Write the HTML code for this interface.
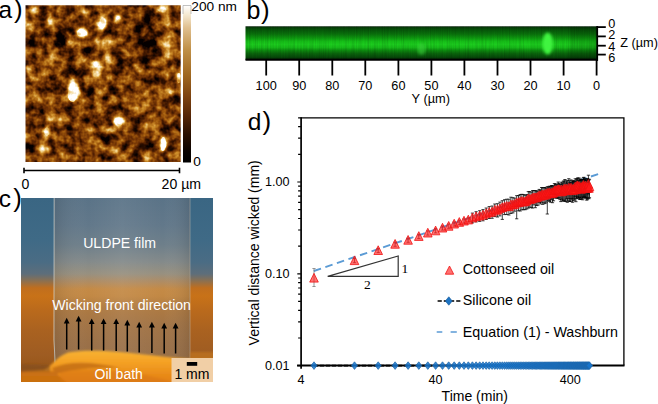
<!DOCTYPE html><html><head><meta charset="utf-8"><title>Figure</title>
<style>html,body{margin:0;padding:0;background:#fff;}svg{display:block}text{font-family:"Liberation Sans",sans-serif;fill:#000}</style></head><body>
<svg width="658" height="404" viewBox="0 0 658 404">
<defs>
<filter id="afm" x="0" y="0" width="100%" height="100%" color-interpolation-filters="sRGB">
<feTurbulence type="fractalNoise" baseFrequency="0.085" numOctaves="3" seed="11" result="n"/>
<feColorMatrix in="n" type="matrix" values="0 0 0 0 0  0 0 0 0 0  0 0 0 0 0  2.6 0 0 0 -0.80" result="a"/>
<feComponentTransfer in="a" result="g"><feFuncA type="linear" slope="1" intercept="0"/></feComponentTransfer>
</filter>
<filter id="afmmap" x="0" y="0" width="100%" height="100%" color-interpolation-filters="sRGB">
<feTurbulence type="fractalNoise" baseFrequency="0.105" numOctaves="3" seed="23" result="n"/>
<feColorMatrix in="n" type="matrix" values="1 0 0 0 0  1 0 0 0 0  1 0 0 0 0  0 0 0 0 1" result="g"/>
<feComposite in="SourceGraphic" in2="g" operator="arithmetic" k1="0" k2="1" k3="1.15" k4="-0.575" result="m"/>
<feComponentTransfer in="m">
<feFuncR type="table" tableValues="0.02 0.21 0.43 0.63 0.81 0.95 1.0"/>
<feFuncG type="table" tableValues="0.00 0.07 0.19 0.35 0.56 0.83 1.0"/>
<feFuncB type="table" tableValues="0.00 0.00 0.02 0.05 0.17 0.55 1.0"/>
<feFuncA type="linear" slope="0" intercept="1"/>
</feComponentTransfer>
</filter>
<filter id="b15"><feGaussianBlur stdDeviation="1.5"/></filter>
<filter id="b2"><feGaussianBlur stdDeviation="2"/></filter>
<filter id="b3"><feGaussianBlur stdDeviation="3.5"/></filter>
<filter id="b1"><feGaussianBlur stdDeviation="1.1"/></filter>
<filter id="b05"><feGaussianBlur stdDeviation="0.6"/></filter>
<clipPath id="afmclip"><rect x="25.5" y="5.3" width="155.2" height="156.7"/></clipPath>
<linearGradient id="cbar" x1="0" y1="0" x2="0" y2="1">
<stop offset="0" stop-color="#ffffff"/><stop offset="0.06" stop-color="#f4e8d0"/><stop offset="0.14" stop-color="#e0c090"/><stop offset="0.28" stop-color="#c09048"/>
<stop offset="0.44" stop-color="#a06820"/><stop offset="0.58" stop-color="#7c4210"/><stop offset="0.7" stop-color="#562606"/>
<stop offset="0.82" stop-color="#2a1000"/><stop offset="0.93" stop-color="#0a0300"/><stop offset="1" stop-color="#000000"/></linearGradient>
<linearGradient id="grn" x1="0" y1="0" x2="0" y2="1">
<stop offset="0" stop-color="#031a04"/><stop offset="0.03" stop-color="#063c08"/><stop offset="0.11" stop-color="#07580a"/>
<stop offset="0.23" stop-color="#0a720c"/><stop offset="0.35" stop-color="#0e9a10"/><stop offset="0.45" stop-color="#16c018"/>
<stop offset="0.54" stop-color="#1ccc1e"/><stop offset="0.63" stop-color="#17bc19"/><stop offset="0.71" stop-color="#0e9010"/>
<stop offset="0.81" stop-color="#0a660c"/><stop offset="0.92" stop-color="#074a0a"/><stop offset="1" stop-color="#042004"/></linearGradient>
<filter id="gnoise" x="0" y="0" width="100%" height="100%" color-interpolation-filters="sRGB">
<feTurbulence type="fractalNoise" baseFrequency="0.85 0.03" numOctaves="2" seed="5" result="n"/>
<feColorMatrix in="n" type="matrix" values="0 0 0 0 0  0 0 0 0 0  0 0 0 0 0  0 1.6 0 0 -0.55" result="a"/>
<feComposite in="a" in2="SourceGraphic" operator="in"/>
</filter>
<linearGradient id="bg" x1="0" y1="0" x2="0" y2="1"><stop offset="0.000" stop-color="#3a6683"/><stop offset="0.228" stop-color="#3f6a86"/><stop offset="0.348" stop-color="#4a6c84"/><stop offset="0.413" stop-color="#5e6e7a"/><stop offset="0.451" stop-color="#8c7050"/><stop offset="0.489" stop-color="#c06e1e"/><stop offset="0.533" stop-color="#c87218"/><stop offset="0.609" stop-color="#ba6a1c"/><stop offset="0.717" stop-color="#aa6220"/><stop offset="0.853" stop-color="#9e5c22"/><stop offset="0.924" stop-color="#985618"/><stop offset="0.957" stop-color="#b46012"/><stop offset="1.000" stop-color="#c0640e"/></linearGradient>
<linearGradient id="film" x1="0" y1="0" x2="0" y2="1"><stop offset="0.000" stop-color="#5a7387"/><stop offset="0.147" stop-color="#62788a"/><stop offset="0.255" stop-color="#6e7f8a"/><stop offset="0.348" stop-color="#848a8a"/><stop offset="0.413" stop-color="#98907f"/><stop offset="0.457" stop-color="#b08c62"/><stop offset="0.495" stop-color="#c48a46"/><stop offset="0.533" stop-color="#c28844"/><stop offset="0.598" stop-color="#ae7a42"/><stop offset="0.690" stop-color="#a27446"/><stop offset="0.799" stop-color="#9a7048"/><stop offset="1.000" stop-color="#946c44"/></linearGradient>
<linearGradient id="filmv" x1="0" y1="0" x2="1" y2="0"><stop offset="0" stop-color="#000" stop-opacity="0.10"/><stop offset="0.25" stop-color="#fff" stop-opacity="0.0"/><stop offset="0.5" stop-color="#fff" stop-opacity="0.06"/><stop offset="0.8" stop-color="#fff" stop-opacity="0"/><stop offset="1" stop-color="#000" stop-opacity="0.10"/></linearGradient>
<linearGradient id="oilg" x1="0" y1="0" x2="0" y2="1"><stop offset="0" stop-color="#f8b232"/><stop offset="0.35" stop-color="#f4a024"/><stop offset="0.7" stop-color="#e88a18"/><stop offset="1" stop-color="#e07c12"/></linearGradient>
<clipPath id="phclip"><rect x="21" y="198" width="192" height="184"/></clipPath>
</defs>
<rect width="658" height="404" fill="#fff"/>
<g clip-path="url(#afmclip)">
<g filter="url(#afmmap)">
<rect x="25" y="5" width="156" height="157" fill="#5e5e5e"/>
<g filter="url(#b15)">
<ellipse cx="66.6" cy="30.7" rx="5" ry="4" fill="#000" opacity="0.81"/>
<ellipse cx="58" cy="40" rx="12" ry="8" fill="#000" opacity="0.59"/>
<ellipse cx="70.5" cy="74.3" rx="7" ry="6" fill="#000" opacity="0.63"/>
<ellipse cx="42.8" cy="7" rx="6" ry="3" fill="#000" opacity="0.54"/>
<ellipse cx="64.6" cy="11" rx="5" ry="4" fill="#000" opacity="0.45"/>
<ellipse cx="90" cy="50.5" rx="5" ry="5" fill="#000" opacity="0.45"/>
<ellipse cx="33" cy="44.6" rx="5" ry="6" fill="#000" opacity="0.41"/>
<ellipse cx="116.8" cy="23.8" rx="3.5" ry="3.5" fill="#000" opacity="0.77"/>
<ellipse cx="146" cy="40" rx="12" ry="24" fill="#000" opacity="0.54"/>
<ellipse cx="150.5" cy="13" rx="6" ry="5" fill="#000" opacity="0.50"/>
<ellipse cx="120.8" cy="64.4" rx="6" ry="6" fill="#000" opacity="0.45"/>
<ellipse cx="92.3" cy="121.6" rx="7" ry="6" fill="#000" opacity="0.59"/>
<ellipse cx="54.7" cy="88" rx="6" ry="5" fill="#000" opacity="0.59"/>
<ellipse cx="31" cy="147" rx="5" ry="6" fill="#000" opacity="0.54"/>
<ellipse cx="88.4" cy="92" rx="5" ry="4" fill="#000" opacity="0.41"/>
<ellipse cx="70.5" cy="147" rx="6" ry="5" fill="#000" opacity="0.45"/>
<ellipse cx="33" cy="117.6" rx="5" ry="5" fill="#000" opacity="0.41"/>
<ellipse cx="148.5" cy="143.4" rx="5" ry="6" fill="#000" opacity="0.63"/>
<ellipse cx="173.3" cy="139.4" rx="4" ry="6" fill="#000" opacity="0.59"/>
<ellipse cx="112.9" cy="90" rx="6" ry="5" fill="#000" opacity="0.54"/>
<ellipse cx="136.6" cy="127.5" rx="6" ry="5" fill="#000" opacity="0.45"/>
<ellipse cx="105" cy="141.4" rx="4" ry="5" fill="#000" opacity="0.54"/>
<ellipse cx="130.7" cy="157" rx="6" ry="4" fill="#000" opacity="0.41"/>
<ellipse cx="60" cy="110" rx="6" ry="6" fill="#000" opacity="0.36"/>
<ellipse cx="73.5" cy="92" rx="6.5" ry="10" fill="#fff" opacity="1.00"/>
<ellipse cx="81.4" cy="32.7" rx="6" ry="5" fill="#fff" opacity="0.95"/>
<ellipse cx="102.5" cy="23" rx="4.5" ry="7" fill="#fff" opacity="0.90"/>
<ellipse cx="96.3" cy="68.4" rx="6.5" ry="9" fill="#fff" opacity="0.95"/>
<ellipse cx="163.3" cy="144" rx="3.2" ry="8" fill="#fff" opacity="1.00"/>
<ellipse cx="118.8" cy="122.6" rx="5.5" ry="5.5" fill="#fff" opacity="0.90"/>
<ellipse cx="46.8" cy="131.5" rx="4" ry="5.5" fill="#fff" opacity="0.85"/>
<ellipse cx="162.4" cy="10" rx="6" ry="4" fill="#fff" opacity="0.80"/>
<ellipse cx="178.5" cy="78" rx="3" ry="6" fill="#fff" opacity="0.85"/>
<ellipse cx="117.8" cy="17.9" rx="3" ry="3" fill="#fff" opacity="0.70"/>
<ellipse cx="35" cy="10" rx="5" ry="4" fill="#fff" opacity="0.55"/>
<ellipse cx="50.7" cy="19.9" rx="3" ry="6" fill="#fff" opacity="0.50"/>
<ellipse cx="71.5" cy="42.6" rx="4" ry="4" fill="#fff" opacity="0.45"/>
<ellipse cx="42.8" cy="72.3" rx="5" ry="5" fill="#fff" opacity="0.50"/>
<ellipse cx="29" cy="26.8" rx="4" ry="5" fill="#fff" opacity="0.40"/>
<ellipse cx="86.4" cy="13" rx="4" ry="4" fill="#fff" opacity="0.45"/>
<ellipse cx="28" cy="70" rx="3" ry="5" fill="#fff" opacity="0.50"/>
<ellipse cx="54.7" cy="56.5" rx="4" ry="4" fill="#fff" opacity="0.40"/>
<ellipse cx="107" cy="50" rx="5" ry="13" fill="#fff" opacity="0.40"/>
<ellipse cx="170" cy="45" rx="8" ry="16" fill="#fff" opacity="0.35"/>
<ellipse cx="126.7" cy="80" rx="5" ry="4" fill="#fff" opacity="0.40"/>
<ellipse cx="44.8" cy="149.3" rx="5" ry="5" fill="#fff" opacity="0.50"/>
<ellipse cx="92.3" cy="141.4" rx="4" ry="4" fill="#fff" opacity="0.45"/>
<ellipse cx="98.3" cy="107.7" rx="4" ry="4" fill="#fff" opacity="0.45"/>
<ellipse cx="50.7" cy="117.6" rx="5" ry="5" fill="#fff" opacity="0.45"/>
<ellipse cx="35" cy="94" rx="5" ry="5" fill="#fff" opacity="0.40"/>
<ellipse cx="76.5" cy="127.5" rx="4" ry="4" fill="#fff" opacity="0.40"/>
<ellipse cx="112.9" cy="151.3" rx="3.5" ry="3.5" fill="#fff" opacity="0.60"/>
<ellipse cx="144.6" cy="103.8" rx="3" ry="3" fill="#fff" opacity="0.55"/>
<ellipse cx="138.6" cy="95.9" rx="5" ry="4" fill="#fff" opacity="0.40"/>
<ellipse cx="166.3" cy="93.9" rx="7" ry="6" fill="#fff" opacity="0.40"/>
<ellipse cx="110.9" cy="129.5" rx="4" ry="4" fill="#fff" opacity="0.40"/>
<ellipse cx="150" cy="120" rx="8" ry="6" fill="#fff" opacity="0.25"/>
</g>
<g filter="url(#b05)">
<ellipse cx="163.3" cy="144" rx="2.6" ry="7" fill="#fff" opacity="1.00"/>
<ellipse cx="72.5" cy="94" rx="4.5" ry="8" fill="#fff" opacity="0.90"/>
<ellipse cx="96.3" cy="68" rx="4" ry="6" fill="#fff" opacity="0.70"/>
<ellipse cx="81.4" cy="32.7" rx="4.5" ry="3.5" fill="#fff" opacity="0.80"/>
<ellipse cx="102.8" cy="22.5" rx="3" ry="5" fill="#fff" opacity="0.70"/>
<ellipse cx="118.8" cy="122.6" rx="3.5" ry="3.5" fill="#fff" opacity="0.80"/>
<ellipse cx="46.8" cy="131.5" rx="2.5" ry="4" fill="#fff" opacity="0.70"/>
<ellipse cx="178.8" cy="78" rx="2" ry="5" fill="#fff" opacity="0.70"/>
<ellipse cx="162.4" cy="10" rx="4" ry="2.5" fill="#fff" opacity="0.50"/>
</g>
</g></g>
<rect x="183" y="5.5" width="8" height="157" fill="url(#cbar)"/>
<rect x="183" y="5.5" width="8" height="8" fill="none"/>
<path d="M183 14 V5.5 H191 V14" fill="none" stroke="#999" stroke-width="0.6"/>
<text x="191.3" y="10.9" font-size="13.7">200 nm</text>
<text x="193.2" y="166.0" font-size="13.7">0</text>
<path d="M24 170.5 H179.5 M24 167.8 V173.2 M179.5 167.8 V173.2" stroke="#000" stroke-width="1.6" fill="none"/>
<text x="21.6" y="188.6" font-size="14.1">0</text>
<text x="161.6" y="188.6" font-size="14.1">20 µm</text>
<text x="-1.4" y="18.4" font-size="24.5">a<tspan font-size="26" dx="1.8">)</tspan></text>
<g clip-path="url(#phclip)">
<rect x="21" y="198" width="192" height="184" fill="url(#bg)"/>
<rect x="54" y="198" width="136" height="184" fill="url(#film)"/>
<path d="M54.2 198 L54 340 L56 382" stroke="#e4e4dc" stroke-width="0.9" fill="none" opacity="0.8"/>
<path d="M190 198 L190 360" stroke="#c8c0b0" stroke-width="0.8" fill="none" opacity="0.6"/>
<rect x="54" y="198" width="136" height="184" fill="url(#filmv)"/>
<g filter="url(#b1)">
<path d="M21 372 L44 370 C52 366 56 357 68 352.5 C82 350 100 350.5 120 352 C150 355 175 358 190 359 L215 359.5 L215 386 L21 386 Z" fill="url(#oilg)"/>
<path d="M21 364 L50 365 L50 372.5 L21 372 Z" fill="#7a4a20" opacity="0.5"/>
<path d="M52 368 C70 360 95 362 120 368 C100 367 75 368 56 374 Z" fill="#b05c10" opacity="0.6"/>
<path d="M21 372 L54 371 L70 386 L21 386 Z" fill="#c06810" opacity="0.75"/>
<path d="M60 372 C100 366 140 372 172 382 L172 386 L60 386 Z" fill="#d87410" opacity="0.5"/>
<path d="M190 352 L215 352 L215 360 L190 360 Z" fill="#c87a20" opacity="0.6"/>
</g>
<rect x="171.5" y="358" width="42" height="24.5" fill="#f1cfa6"/>
<rect x="186.8" y="362" width="10.4" height="3.8" fill="#000"/>
</g>
<text x="174.4" y="378.8" font-size="14">1 mm</text>
<text x="83.2" y="248" font-size="14.1" style="fill:#fff">ULDPE film</text>
<text x="52.3" y="309.5" font-size="14.1" style="fill:#fff">Wicking front direction</text>
<text x="94.6" y="378.7" font-size="14" style="fill:#fff">Oil bath</text>
<path d="M66.7 349.5 V321" stroke="#000" stroke-width="1.5"/>
<path d="M63.8 323.4 L66.7 317.7 L69.6 323.4 Z" fill="#000"/>
<path d="M78.6 349.5 V319" stroke="#000" stroke-width="1.5"/>
<path d="M75.7 321.4 L78.6 315.7 L81.5 321.4 Z" fill="#000"/>
<path d="M91.7 350.5 V321.7" stroke="#000" stroke-width="1.5"/>
<path d="M88.8 324.1 L91.7 318.4 L94.6 324.1 Z" fill="#000"/>
<path d="M103.6 350.5 V321.7" stroke="#000" stroke-width="1.5"/>
<path d="M100.7 324.1 L103.6 318.4 L106.5 324.1 Z" fill="#000"/>
<path d="M116.2 351 V321.7" stroke="#000" stroke-width="1.5"/>
<path d="M113.3 324.1 L116.2 318.4 L119.1 324.1 Z" fill="#000"/>
<path d="M127.3 351.5 V323" stroke="#000" stroke-width="1.5"/>
<path d="M124.4 325.4 L127.3 319.7 L130.2 325.4 Z" fill="#000"/>
<path d="M139.2 352.5 V325" stroke="#000" stroke-width="1.5"/>
<path d="M136.3 327.4 L139.2 321.7 L142.1 327.4 Z" fill="#000"/>
<path d="M151.9 353 V325" stroke="#000" stroke-width="1.5"/>
<path d="M149.0 327.4 L151.9 321.7 L154.8 327.4 Z" fill="#000"/>
<path d="M164.2 353.5 V326" stroke="#000" stroke-width="1.5"/>
<path d="M161.3 328.4 L164.2 322.7 L167.1 328.4 Z" fill="#000"/>
<path d="M175.6 353.5 V326" stroke="#000" stroke-width="1.5"/>
<path d="M172.7 328.4 L175.6 322.7 L178.5 328.4 Z" fill="#000"/>
<text x="-1.2" y="206.5" font-size="24.5">c<tspan font-size="26" dx="2.2">)</tspan></text>
<rect x="245.5" y="26.3" width="351.5" height="33.5" fill="url(#grn)"/>
<rect x="245.5" y="26.3" width="351.5" height="33.5" fill="#000" filter="url(#gnoise)" opacity="0.16"/>
<ellipse cx="547.7" cy="43.5" rx="5.2" ry="11" fill="#40f440" filter="url(#b15)"/>
<rect x="570" y="27" width="27" height="32" fill="#000" opacity="0.12"/>
<ellipse cx="421.5" cy="49" rx="4" ry="6" fill="#40d840" opacity="0.55" filter="url(#b15)"/>
<path d="M245.5 59.8 H598" stroke="#000" stroke-width="2"/>
<path d="M597.2 26 V60.8" stroke="#000" stroke-width="1.8"/>
<path d="M266.2 60 V75.5" stroke="#000" stroke-width="1.8"/>
<text x="266.2" y="90.1" font-size="12.7" text-anchor="middle">100</text>
<path d="M299.2 60 V75.5" stroke="#000" stroke-width="1.8"/>
<text x="299.2" y="90.1" font-size="12.7" text-anchor="middle">90</text>
<path d="M332.3 60 V75.5" stroke="#000" stroke-width="1.8"/>
<text x="332.3" y="90.1" font-size="12.7" text-anchor="middle">80</text>
<path d="M365.3 60 V75.5" stroke="#000" stroke-width="1.8"/>
<text x="365.3" y="90.1" font-size="12.7" text-anchor="middle">70</text>
<path d="M398.4 60 V75.5" stroke="#000" stroke-width="1.8"/>
<text x="398.4" y="90.1" font-size="12.7" text-anchor="middle">60</text>
<path d="M431.4 60 V75.5" stroke="#000" stroke-width="1.8"/>
<text x="431.4" y="90.1" font-size="12.7" text-anchor="middle">50</text>
<path d="M464.4 60 V75.5" stroke="#000" stroke-width="1.8"/>
<text x="464.4" y="90.1" font-size="12.7" text-anchor="middle">40</text>
<path d="M497.5 60 V75.5" stroke="#000" stroke-width="1.8"/>
<text x="497.5" y="90.1" font-size="12.7" text-anchor="middle">30</text>
<path d="M530.5 60 V75.5" stroke="#000" stroke-width="1.8"/>
<text x="530.5" y="90.1" font-size="12.7" text-anchor="middle">20</text>
<path d="M563.6 60 V75.5" stroke="#000" stroke-width="1.8"/>
<text x="563.6" y="90.1" font-size="12.7" text-anchor="middle">10</text>
<path d="M596.6 60 V75.5" stroke="#000" stroke-width="1.8"/>
<text x="596.6" y="90.1" font-size="12.7" text-anchor="middle">0</text>
<path d="M597 27.1 H605.8" stroke="#000" stroke-width="1.8"/>
<text x="608.2" y="28.2" font-size="12.7">0</text>
<path d="M597 36.4 H605.8" stroke="#000" stroke-width="1.8"/>
<text x="608.2" y="38.6" font-size="12.7">2</text>
<path d="M597 45.7 H605.8" stroke="#000" stroke-width="1.8"/>
<text x="608.2" y="50.6" font-size="12.7">4</text>
<path d="M597 54.6 H605.8" stroke="#000" stroke-width="1.8"/>
<text x="608.2" y="62.3" font-size="12.7">6</text>
<text x="620.3" y="47" font-size="12.7">Z (µm)</text>
<text x="411.6" y="103.2" font-size="12.8">Y (µm)</text>
<text x="246.6" y="18.8" font-size="25">b<tspan font-size="26" dx="0.6">)</tspan></text>
<text x="247.7" y="130.1" font-size="24.5">d<tspan font-size="26" dx="1.2">)</tspan></text>
<text x="289.6" y="186.3" font-size="12.6" text-anchor="end">1.00</text>
<text x="289.6" y="278.1" font-size="12.6" text-anchor="end">0.10</text>
<text x="289.6" y="369.9" font-size="12.6" text-anchor="end">0.01</text>
<text x="300.9" y="383.6" font-size="12.6" text-anchor="middle">4</text>
<text x="435.6" y="383.6" font-size="12.6" text-anchor="middle">40</text>
<text x="570.3" y="383.6" font-size="12.6" text-anchor="middle">400</text>
<text x="441.6" y="400.6" font-size="14">Time (min)</text>
<text transform="translate(258.6,345.4) rotate(-90)" font-size="14">Vertical distance wicked (mm)</text>
<path d="M297.3 365.6 H300.9 M298.1 338.0 H300.9 M298.1 321.8 H300.9 M298.1 310.3 H300.9 M298.1 301.4 H300.9 M298.1 294.2 H300.9 M298.1 288.0 H300.9 M298.1 282.7 H300.9 M298.1 278.0 H300.9 M297.3 273.8 H300.9 M298.1 246.2 H300.9 M298.1 230.0 H300.9 M298.1 218.5 H300.9 M298.1 209.6 H300.9 M298.1 202.4 H300.9 M298.1 196.2 H300.9 M298.1 190.9 H300.9 M298.1 186.2 H300.9 M297.3 182.0 H300.9 M298.1 154.4 H300.9 M298.1 138.2 H300.9 M298.1 126.7 H300.9 M298.1 117.8 H300.9" stroke="#000" stroke-width="1.2" fill="none"/>
<path d="M314.0 365.6 H589.5" stroke="#000" stroke-width="1.6" stroke-dasharray="4 2"/>
<path d="M300.9 117.8 H623.9 V365.6" stroke="#000" stroke-width="1.3" fill="none"/>
<path d="M301.1 117.2 V368.8" stroke="#000" stroke-width="1.7" fill="none"/>
<path d="M297.1 365.5 H624.5" stroke="#000" stroke-width="1.9" fill="none"/>
<path d="M313.8 271.0 L598.5 173.9" stroke="#5b9bd5" stroke-width="1.9" stroke-dasharray="7.6 4.6" fill="none"/>
<path d="M314.0 268.5 V286.5 M312.4 268.5 h3.2 M312.4 286.5 h3.2" stroke="#777" stroke-width="0.75" fill="none"/>
<path d="M354.5 258.5 V262.7 M352.9 258.5 h3.2 M352.9 262.7 h3.2" stroke="#7a2a2a" stroke-width="0.75" fill="none"/>
<path d="M378.2 248.4 V252.6 M376.6 248.4 h3.2 M376.6 252.6 h3.2" stroke="#7a2a2a" stroke-width="0.75" fill="none"/>
<path d="M395.1 242.1 V246.3 M393.5 242.1 h3.2 M393.5 246.3 h3.2" stroke="#7a2a2a" stroke-width="0.75" fill="none"/>
<path d="M408.1 238.1 V242.3 M406.5 238.1 h3.2 M406.5 242.3 h3.2" stroke="#7a2a2a" stroke-width="0.75" fill="none"/>
<path d="M418.8 234.3 V238.5 M417.2 234.3 h3.2 M417.2 238.5 h3.2" stroke="#7a2a2a" stroke-width="0.75" fill="none"/>
<path d="M427.8 230.9 V235.1 M426.2 230.9 h3.2 M426.2 235.1 h3.2" stroke="#7a2a2a" stroke-width="0.75" fill="none"/>
<path d="M435.6 228.7 V232.9 M434.0 228.7 h3.2 M434.0 232.9 h3.2" stroke="#7a2a2a" stroke-width="0.75" fill="none"/>
<path d="M442.5 225.9 V230.1 M440.9 225.9 h3.2 M440.9 230.1 h3.2" stroke="#7a2a2a" stroke-width="0.75" fill="none"/>
<path d="M448.7 224.1 V228.3 M447.1 224.1 h3.2 M447.1 228.3 h3.2" stroke="#7a2a2a" stroke-width="0.75" fill="none"/>
<path d="M454.2 221.9 V226.1 M452.6 221.9 h3.2 M452.6 226.1 h3.2" stroke="#7a2a2a" stroke-width="0.75" fill="none"/>
<path d="M459.3 220.2 V224.4 M457.7 220.2 h3.2 M457.7 224.4 h3.2" stroke="#7a2a2a" stroke-width="0.75" fill="none"/>
<path d="M464.0 218.9 V223.1 M462.4 218.9 h3.2 M462.4 223.1 h3.2" stroke="#7a2a2a" stroke-width="0.75" fill="none"/>
<path d="M468.3 217.8 V222.0 M466.7 217.8 h3.2 M466.7 222.0 h3.2" stroke="#7a2a2a" stroke-width="0.75" fill="none"/>
<path d="M472.4 213.1 V222.9 M470.8 213.1 h3.2 M470.8 222.9 h3.2" stroke="#000" stroke-width="0.75" fill="none"/>
<path d="M476.1 211.7 V221.9 M474.5 211.7 h3.2 M474.5 221.9 h3.2" stroke="#000" stroke-width="0.75" fill="none"/>
<path d="M479.7 210.7 V221.4 M478.1 210.7 h3.2 M478.1 221.4 h3.2" stroke="#000" stroke-width="0.75" fill="none"/>
<path d="M483.0 209.6 V220.8 M481.4 209.6 h3.2 M481.4 220.8 h3.2" stroke="#000" stroke-width="0.75" fill="none"/>
<path d="M486.2 208.0 V219.5 M484.6 208.0 h3.2 M484.6 219.5 h3.2" stroke="#000" stroke-width="0.75" fill="none"/>
<path d="M489.2 206.6 V218.5 M487.6 206.6 h3.2 M487.6 218.5 h3.2" stroke="#000" stroke-width="0.75" fill="none"/>
<path d="M492.1 206.0 V218.3 M490.5 206.0 h3.2 M490.5 218.3 h3.2" stroke="#000" stroke-width="0.75" fill="none"/>
<path d="M494.8 204.0 V216.6 M493.2 204.0 h3.2 M493.2 216.6 h3.2" stroke="#000" stroke-width="0.75" fill="none"/>
<path d="M497.4 203.7 V217.0 M495.8 203.7 h3.2 M495.8 217.0 h3.2" stroke="#000" stroke-width="0.75" fill="none"/>
<path d="M499.9 202.1 V215.9 M498.3 202.1 h3.2 M498.3 215.9 h3.2" stroke="#000" stroke-width="0.75" fill="none"/>
<path d="M502.3 200.7 V219.4 M500.7 200.7 h3.2 M500.7 219.4 h3.2" stroke="#000" stroke-width="0.75" fill="none"/>
<path d="M504.6 199.7 V214.6 M503.0 199.7 h3.2 M503.0 214.6 h3.2" stroke="#000" stroke-width="0.75" fill="none"/>
<path d="M506.8 199.2 V214.5 M505.2 199.2 h3.2 M505.2 214.5 h3.2" stroke="#000" stroke-width="0.75" fill="none"/>
<path d="M508.9 199.2 V215.0 M507.3 199.2 h3.2 M507.3 215.0 h3.2" stroke="#000" stroke-width="0.75" fill="none"/>
<path d="M510.9 197.2 V213.5 M509.3 197.2 h3.2 M509.3 213.5 h3.2" stroke="#000" stroke-width="0.75" fill="none"/>
<path d="M512.9 197.7 V212.9 M511.3 197.7 h3.2 M511.3 212.9 h3.2" stroke="#000" stroke-width="0.75" fill="none"/>
<path d="M514.8 198.1 V211.2 M513.2 198.1 h3.2 M513.2 211.2 h3.2" stroke="#000" stroke-width="0.75" fill="none"/>
<path d="M516.7 195.7 V218.8 M515.1 195.7 h3.2 M515.1 218.8 h3.2" stroke="#000" stroke-width="0.75" fill="none"/>
<path d="M518.5 195.5 V210.8 M516.9 195.5 h3.2 M516.9 210.8 h3.2" stroke="#000" stroke-width="0.75" fill="none"/>
<path d="M520.2 194.5 V211.0 M518.6 194.5 h3.2 M518.6 211.0 h3.2" stroke="#000" stroke-width="0.75" fill="none"/>
<path d="M521.9 194.3 V209.8 M520.3 194.3 h3.2 M520.3 209.8 h3.2" stroke="#000" stroke-width="0.75" fill="none"/>
<path d="M523.6 194.5 V209.7 M522.0 194.5 h3.2 M522.0 209.7 h3.2" stroke="#000" stroke-width="0.75" fill="none"/>
<path d="M525.2 195.4 V209.7 M523.6 195.4 h3.2 M523.6 209.7 h3.2" stroke="#000" stroke-width="0.75" fill="none"/>
<path d="M526.8 194.5 V209.0 M525.2 194.5 h3.2 M525.2 209.0 h3.2" stroke="#000" stroke-width="0.75" fill="none"/>
<path d="M528.3 191.6 V208.1 M526.7 191.6 h3.2 M526.7 208.1 h3.2" stroke="#000" stroke-width="0.75" fill="none"/>
<path d="M529.8 191.7 V207.2 M528.2 191.7 h3.2 M528.2 207.2 h3.2" stroke="#000" stroke-width="0.75" fill="none"/>
<path d="M531.2 192.0 V207.7 M529.6 192.0 h3.2 M529.6 207.7 h3.2" stroke="#000" stroke-width="0.75" fill="none"/>
<path d="M532.6 190.6 V208.0 M531.0 190.6 h3.2 M531.0 208.0 h3.2" stroke="#000" stroke-width="0.75" fill="none"/>
<path d="M534.0 190.6 V204.9 M532.4 190.6 h3.2 M532.4 204.9 h3.2" stroke="#000" stroke-width="0.75" fill="none"/>
<path d="M535.3 190.6 V207.7 M533.7 190.6 h3.2 M533.7 207.7 h3.2" stroke="#000" stroke-width="0.75" fill="none"/>
<path d="M536.6 191.1 V205.6 M535.0 191.1 h3.2 M535.0 205.6 h3.2" stroke="#000" stroke-width="0.75" fill="none"/>
<path d="M537.9 190.9 V205.2 M536.3 190.9 h3.2 M536.3 205.2 h3.2" stroke="#000" stroke-width="0.75" fill="none"/>
<path d="M539.2 189.4 V202.6 M537.6 189.4 h3.2 M537.6 202.6 h3.2" stroke="#000" stroke-width="0.75" fill="none"/>
<path d="M540.4 190.1 V203.9 M538.8 190.1 h3.2 M538.8 203.9 h3.2" stroke="#000" stroke-width="0.75" fill="none"/>
<path d="M541.6 187.5 V202.3 M540.0 187.5 h3.2 M540.0 202.3 h3.2" stroke="#000" stroke-width="0.75" fill="none"/>
<path d="M542.8 187.9 V204.4 M541.2 187.9 h3.2 M541.2 204.4 h3.2" stroke="#000" stroke-width="0.75" fill="none"/>
<path d="M544.0 187.6 V202.9 M542.4 187.6 h3.2 M542.4 202.9 h3.2" stroke="#000" stroke-width="0.75" fill="none"/>
<path d="M545.1 187.5 V203.6 M543.5 187.5 h3.2 M543.5 203.6 h3.2" stroke="#000" stroke-width="0.75" fill="none"/>
<path d="M546.2 188.6 V202.2 M544.6 188.6 h3.2 M544.6 202.2 h3.2" stroke="#000" stroke-width="0.75" fill="none"/>
<path d="M547.3 186.7 V214.0 M545.7 186.7 h3.2 M545.7 214.0 h3.2" stroke="#000" stroke-width="0.75" fill="none"/>
<path d="M548.4 187.0 V200.4 M546.8 187.0 h3.2 M546.8 200.4 h3.2" stroke="#000" stroke-width="0.75" fill="none"/>
<path d="M549.4 186.2 V201.4 M547.8 186.2 h3.2 M547.8 201.4 h3.2" stroke="#000" stroke-width="0.75" fill="none"/>
<path d="M550.5 186.5 V202.2 M548.9 186.5 h3.2 M548.9 202.2 h3.2" stroke="#000" stroke-width="0.75" fill="none"/>
<path d="M551.5 185.5 V199.8 M549.9 185.5 h3.2 M549.9 199.8 h3.2" stroke="#000" stroke-width="0.75" fill="none"/>
<path d="M552.5 185.7 V202.7 M550.9 185.7 h3.2 M550.9 202.7 h3.2" stroke="#000" stroke-width="0.75" fill="none"/>
<path d="M553.5 186.0 V200.8 M551.9 186.0 h3.2 M551.9 200.8 h3.2" stroke="#000" stroke-width="0.75" fill="none"/>
<path d="M554.4 183.6 V197.9 M552.8 183.6 h3.2 M552.8 197.9 h3.2" stroke="#000" stroke-width="0.75" fill="none"/>
<path d="M555.4 184.1 V197.8 M553.8 184.1 h3.2 M553.8 197.8 h3.2" stroke="#000" stroke-width="0.75" fill="none"/>
<path d="M556.3 184.9 V197.8 M554.7 184.9 h3.2 M554.7 197.8 h3.2" stroke="#000" stroke-width="0.75" fill="none"/>
<path d="M557.2 184.1 V198.2 M555.6 184.1 h3.2 M555.6 198.2 h3.2" stroke="#000" stroke-width="0.75" fill="none"/>
<path d="M558.2 182.0 V198.4 M556.6 182.0 h3.2 M556.6 198.4 h3.2" stroke="#000" stroke-width="0.75" fill="none"/>
<path d="M559.0 183.3 V197.7 M557.4 183.3 h3.2 M557.4 197.7 h3.2" stroke="#000" stroke-width="0.75" fill="none"/>
<path d="M559.9 184.0 V199.6 M558.3 184.0 h3.2 M558.3 199.6 h3.2" stroke="#000" stroke-width="0.75" fill="none"/>
<path d="M560.8 184.6 V201.6 M559.2 184.6 h3.2 M559.2 201.6 h3.2" stroke="#000" stroke-width="0.75" fill="none"/>
<path d="M561.6 182.2 V199.2 M560.0 182.2 h3.2 M560.0 199.2 h3.2" stroke="#000" stroke-width="0.75" fill="none"/>
<path d="M562.5 183.0 V201.0 M560.9 183.0 h3.2 M560.9 201.0 h3.2" stroke="#000" stroke-width="0.75" fill="none"/>
<path d="M563.3 181.2 V200.2 M561.7 181.2 h3.2 M561.7 200.2 h3.2" stroke="#000" stroke-width="0.75" fill="none"/>
<path d="M564.1 180.9 V201.1 M562.5 180.9 h3.2 M562.5 201.1 h3.2" stroke="#000" stroke-width="0.75" fill="none"/>
<path d="M564.9 179.5 V201.0 M563.3 179.5 h3.2 M563.3 201.0 h3.2" stroke="#000" stroke-width="0.75" fill="none"/>
<path d="M565.7 182.8 V201.5 M564.1 182.8 h3.2 M564.1 201.5 h3.2" stroke="#000" stroke-width="0.75" fill="none"/>
<path d="M566.5 181.1 V199.0 M564.9 181.1 h3.2 M564.9 199.0 h3.2" stroke="#000" stroke-width="0.75" fill="none"/>
<path d="M567.3 180.4 V202.3 M565.7 180.4 h3.2 M565.7 202.3 h3.2" stroke="#000" stroke-width="0.75" fill="none"/>
<path d="M568.1 183.0 V200.7 M566.5 183.0 h3.2 M566.5 200.7 h3.2" stroke="#000" stroke-width="0.75" fill="none"/>
<path d="M568.8 178.7 V198.7 M567.2 178.7 h3.2 M567.2 198.7 h3.2" stroke="#000" stroke-width="0.75" fill="none"/>
<path d="M569.6 180.7 V201.5 M568.0 180.7 h3.2 M568.0 201.5 h3.2" stroke="#000" stroke-width="0.75" fill="none"/>
<path d="M570.3 182.2 V201.5 M568.7 182.2 h3.2 M568.7 201.5 h3.2" stroke="#000" stroke-width="0.75" fill="none"/>
<path d="M571.0 179.9 V198.6 M569.4 179.9 h3.2 M569.4 198.6 h3.2" stroke="#000" stroke-width="0.75" fill="none"/>
<path d="M571.7 182.8 V200.1 M570.1 182.8 h3.2 M570.1 200.1 h3.2" stroke="#000" stroke-width="0.75" fill="none"/>
<path d="M572.5 180.8 V202.3 M570.9 180.8 h3.2 M570.9 202.3 h3.2" stroke="#000" stroke-width="0.75" fill="none"/>
<path d="M573.2 181.5 V198.4 M571.6 181.5 h3.2 M571.6 198.4 h3.2" stroke="#000" stroke-width="0.75" fill="none"/>
<path d="M573.8 180.6 V200.8 M572.2 180.6 h3.2 M572.2 200.8 h3.2" stroke="#000" stroke-width="0.75" fill="none"/>
<path d="M574.5 181.9 V199.9 M572.9 181.9 h3.2 M572.9 199.9 h3.2" stroke="#000" stroke-width="0.75" fill="none"/>
<path d="M575.2 178.8 V196.7 M573.6 178.8 h3.2 M573.6 196.7 h3.2" stroke="#000" stroke-width="0.75" fill="none"/>
<path d="M575.9 181.1 V201.7 M574.3 181.1 h3.2 M574.3 201.7 h3.2" stroke="#000" stroke-width="0.75" fill="none"/>
<path d="M576.5 179.1 V198.5 M574.9 179.1 h3.2 M574.9 198.5 h3.2" stroke="#000" stroke-width="0.75" fill="none"/>
<path d="M577.2 178.6 V197.5 M575.6 178.6 h3.2 M575.6 197.5 h3.2" stroke="#000" stroke-width="0.75" fill="none"/>
<path d="M577.8 177.8 V196.6 M576.2 177.8 h3.2 M576.2 196.6 h3.2" stroke="#000" stroke-width="0.75" fill="none"/>
<path d="M578.5 180.3 V198.7 M576.9 180.3 h3.2 M576.9 198.7 h3.2" stroke="#000" stroke-width="0.75" fill="none"/>
<path d="M579.1 178.0 V197.5 M577.5 178.0 h3.2 M577.5 197.5 h3.2" stroke="#000" stroke-width="0.75" fill="none"/>
<path d="M579.7 180.0 V199.5 M578.1 180.0 h3.2 M578.1 199.5 h3.2" stroke="#000" stroke-width="0.75" fill="none"/>
<path d="M580.4 179.0 V198.2 M578.8 179.0 h3.2 M578.8 198.2 h3.2" stroke="#000" stroke-width="0.75" fill="none"/>
<path d="M581.0 179.8 V199.5 M579.4 179.8 h3.2 M579.4 199.5 h3.2" stroke="#000" stroke-width="0.75" fill="none"/>
<path d="M581.6 180.0 V197.2 M580.0 180.0 h3.2 M580.0 197.2 h3.2" stroke="#000" stroke-width="0.75" fill="none"/>
<path d="M582.2 179.6 V198.3 M580.6 179.6 h3.2 M580.6 198.3 h3.2" stroke="#000" stroke-width="0.75" fill="none"/>
<path d="M582.8 179.5 V199.8 M581.2 179.5 h3.2 M581.2 199.8 h3.2" stroke="#000" stroke-width="0.75" fill="none"/>
<path d="M583.4 177.7 V197.6 M581.8 177.7 h3.2 M581.8 197.6 h3.2" stroke="#000" stroke-width="0.75" fill="none"/>
<path d="M583.9 177.3 V196.3 M582.3 177.3 h3.2 M582.3 196.3 h3.2" stroke="#000" stroke-width="0.75" fill="none"/>
<path d="M584.5 179.0 V196.9 M582.9 179.0 h3.2 M582.9 196.9 h3.2" stroke="#000" stroke-width="0.75" fill="none"/>
<path d="M585.1 179.7 V197.4 M583.5 179.7 h3.2 M583.5 197.4 h3.2" stroke="#000" stroke-width="0.75" fill="none"/>
<path d="M585.6 178.7 V198.3 M584.0 178.7 h3.2 M584.0 198.3 h3.2" stroke="#000" stroke-width="0.75" fill="none"/>
<path d="M586.2 180.4 V197.7 M584.6 180.4 h3.2 M584.6 197.7 h3.2" stroke="#000" stroke-width="0.75" fill="none"/>
<path d="M586.8 179.9 V200.2 M585.2 179.9 h3.2 M585.2 200.2 h3.2" stroke="#000" stroke-width="0.75" fill="none"/>
<path d="M587.3 178.8 V199.3 M585.7 178.8 h3.2 M585.7 199.3 h3.2" stroke="#000" stroke-width="0.75" fill="none"/>
<path d="M587.9 178.8 V198.2 M586.3 178.8 h3.2 M586.3 198.2 h3.2" stroke="#000" stroke-width="0.75" fill="none"/>
<path d="M588.4 175.2 V194.0 M586.8 175.2 h3.2 M586.8 194.0 h3.2" stroke="#000" stroke-width="0.75" fill="none"/>
<path d="M588.9 180.1 V198.7 M587.3 180.1 h3.2 M587.3 198.7 h3.2" stroke="#000" stroke-width="0.75" fill="none"/>
<path d="M589.5 179.3 V197.7 M587.9 179.3 h3.2 M587.9 197.7 h3.2" stroke="#000" stroke-width="0.75" fill="none"/>
<path d="M309.7 282.1 L314.0 273.4 L318.3 282.1 Z" fill="#ff1a1a" fill-opacity="0.62" stroke="#f01010" stroke-width="0.8" stroke-linejoin="round"/>
<path d="M350.2 264.6 L354.5 255.9 L358.8 264.6 Z" fill="#ff1a1a" fill-opacity="0.62" stroke="#f01010" stroke-width="0.8" stroke-linejoin="round"/>
<path d="M373.9 254.5 L378.2 245.8 L382.5 254.5 Z" fill="#ff1a1a" fill-opacity="0.62" stroke="#f01010" stroke-width="0.8" stroke-linejoin="round"/>
<path d="M390.8 248.2 L395.1 239.5 L399.4 248.2 Z" fill="#ff1a1a" fill-opacity="0.62" stroke="#f01010" stroke-width="0.8" stroke-linejoin="round"/>
<path d="M403.8 244.2 L408.1 235.5 L412.4 244.2 Z" fill="#ff1a1a" fill-opacity="0.62" stroke="#f01010" stroke-width="0.8" stroke-linejoin="round"/>
<path d="M414.5 240.4 L418.8 231.7 L423.1 240.4 Z" fill="#ff1a1a" fill-opacity="0.62" stroke="#f01010" stroke-width="0.8" stroke-linejoin="round"/>
<path d="M423.5 237.0 L427.8 228.3 L432.1 237.0 Z" fill="#ff1a1a" fill-opacity="0.62" stroke="#f01010" stroke-width="0.8" stroke-linejoin="round"/>
<path d="M431.3 234.8 L435.6 226.1 L439.9 234.8 Z" fill="#ff1a1a" fill-opacity="0.62" stroke="#f01010" stroke-width="0.8" stroke-linejoin="round"/>
<path d="M438.2 232.0 L442.5 223.3 L446.8 232.0 Z" fill="#ff1a1a" fill-opacity="0.62" stroke="#f01010" stroke-width="0.8" stroke-linejoin="round"/>
<path d="M444.4 230.2 L448.7 221.5 L453.0 230.2 Z" fill="#ff1a1a" fill-opacity="0.62" stroke="#f01010" stroke-width="0.8" stroke-linejoin="round"/>
<path d="M449.9 228.0 L454.2 219.3 L458.5 228.0 Z" fill="#ff1a1a" fill-opacity="0.62" stroke="#f01010" stroke-width="0.8" stroke-linejoin="round"/>
<path d="M455.0 226.3 L459.3 217.6 L463.6 226.3 Z" fill="#ff1a1a" fill-opacity="0.62" stroke="#f01010" stroke-width="0.8" stroke-linejoin="round"/>
<path d="M459.7 225.0 L464.0 216.3 L468.3 225.0 Z" fill="#ff1a1a" fill-opacity="0.62" stroke="#f01010" stroke-width="0.8" stroke-linejoin="round"/>
<path d="M464.0 223.9 L468.3 215.2 L472.6 223.9 Z" fill="#ff1a1a" fill-opacity="0.62" stroke="#f01010" stroke-width="0.8" stroke-linejoin="round"/>
<path d="M468.1 221.9 L472.4 213.2 L476.7 221.9 Z" fill="#ff1a1a" fill-opacity="0.62" stroke="#f01010" stroke-width="0.8" stroke-linejoin="round"/>
<path d="M471.8 220.7 L476.1 212.0 L480.4 220.7 Z" fill="#ff1a1a" fill-opacity="0.62" stroke="#f01010" stroke-width="0.8" stroke-linejoin="round"/>
<path d="M475.4 219.9 L479.7 211.2 L484.0 219.9 Z" fill="#ff1a1a" fill-opacity="0.62" stroke="#f01010" stroke-width="0.8" stroke-linejoin="round"/>
<path d="M478.7 219.0 L483.0 210.3 L487.3 219.0 Z" fill="#ff1a1a" fill-opacity="0.62" stroke="#f01010" stroke-width="0.8" stroke-linejoin="round"/>
<path d="M481.9 217.6 L486.2 208.9 L490.5 217.6 Z" fill="#ff1a1a" fill-opacity="0.62" stroke="#f01010" stroke-width="0.8" stroke-linejoin="round"/>
<path d="M484.9 216.4 L489.2 207.7 L493.5 216.4 Z" fill="#ff1a1a" fill-opacity="0.62" stroke="#f01010" stroke-width="0.8" stroke-linejoin="round"/>
<path d="M487.8 216.0 L492.1 207.3 L496.4 216.0 Z" fill="#ff1a1a" fill-opacity="0.62" stroke="#f01010" stroke-width="0.8" stroke-linejoin="round"/>
<path d="M490.5 214.1 L494.8 205.4 L499.1 214.1 Z" fill="#ff1a1a" fill-opacity="0.62" stroke="#f01010" stroke-width="0.8" stroke-linejoin="round"/>
<path d="M493.1 214.1 L497.4 205.4 L501.7 214.1 Z" fill="#ff1a1a" fill-opacity="0.62" stroke="#f01010" stroke-width="0.8" stroke-linejoin="round"/>
<path d="M495.6 212.7 L499.9 204.0 L504.2 212.7 Z" fill="#ff1a1a" fill-opacity="0.62" stroke="#f01010" stroke-width="0.8" stroke-linejoin="round"/>
<path d="M498.0 211.5 L502.3 202.8 L506.6 211.5 Z" fill="#ff1a1a" fill-opacity="0.62" stroke="#f01010" stroke-width="0.8" stroke-linejoin="round"/>
<path d="M500.3 210.7 L504.6 202.0 L508.9 210.7 Z" fill="#ff1a1a" fill-opacity="0.62" stroke="#f01010" stroke-width="0.8" stroke-linejoin="round"/>
<path d="M502.5 210.3 L506.8 201.6 L511.1 210.3 Z" fill="#ff1a1a" fill-opacity="0.62" stroke="#f01010" stroke-width="0.8" stroke-linejoin="round"/>
<path d="M504.6 210.6 L508.9 201.9 L513.2 210.6 Z" fill="#ff1a1a" fill-opacity="0.62" stroke="#f01010" stroke-width="0.8" stroke-linejoin="round"/>
<path d="M506.6 208.8 L510.9 200.1 L515.2 208.8 Z" fill="#ff1a1a" fill-opacity="0.62" stroke="#f01010" stroke-width="0.8" stroke-linejoin="round"/>
<path d="M508.6 208.8 L512.9 200.1 L517.2 208.8 Z" fill="#ff1a1a" fill-opacity="0.62" stroke="#f01010" stroke-width="0.8" stroke-linejoin="round"/>
<path d="M510.5 208.2 L514.8 199.5 L519.1 208.2 Z" fill="#ff1a1a" fill-opacity="0.62" stroke="#f01010" stroke-width="0.8" stroke-linejoin="round"/>
<path d="M512.4 206.9 L516.7 198.2 L521.0 206.9 Z" fill="#ff1a1a" fill-opacity="0.62" stroke="#f01010" stroke-width="0.8" stroke-linejoin="round"/>
<path d="M514.2 206.5 L518.5 197.8 L522.8 206.5 Z" fill="#ff1a1a" fill-opacity="0.62" stroke="#f01010" stroke-width="0.8" stroke-linejoin="round"/>
<path d="M515.9 206.0 L520.2 197.3 L524.5 206.0 Z" fill="#ff1a1a" fill-opacity="0.62" stroke="#f01010" stroke-width="0.8" stroke-linejoin="round"/>
<path d="M517.6 205.3 L521.9 196.6 L526.2 205.3 Z" fill="#ff1a1a" fill-opacity="0.62" stroke="#f01010" stroke-width="0.8" stroke-linejoin="round"/>
<path d="M519.3 205.9 L523.6 197.2 L527.9 205.9 Z" fill="#ff1a1a" fill-opacity="0.62" stroke="#f01010" stroke-width="0.8" stroke-linejoin="round"/>
<path d="M520.9 205.6 L525.2 196.9 L529.5 205.6 Z" fill="#ff1a1a" fill-opacity="0.62" stroke="#f01010" stroke-width="0.8" stroke-linejoin="round"/>
<path d="M522.5 204.7 L526.8 196.0 L531.1 204.7 Z" fill="#ff1a1a" fill-opacity="0.62" stroke="#f01010" stroke-width="0.8" stroke-linejoin="round"/>
<path d="M524.0 202.9 L528.3 194.2 L532.6 202.9 Z" fill="#ff1a1a" fill-opacity="0.62" stroke="#f01010" stroke-width="0.8" stroke-linejoin="round"/>
<path d="M525.5 203.4 L529.8 194.7 L534.1 203.4 Z" fill="#ff1a1a" fill-opacity="0.62" stroke="#f01010" stroke-width="0.8" stroke-linejoin="round"/>
<path d="M526.9 203.1 L531.2 194.4 L535.5 203.1 Z" fill="#ff1a1a" fill-opacity="0.62" stroke="#f01010" stroke-width="0.8" stroke-linejoin="round"/>
<path d="M528.3 202.2 L532.6 193.5 L536.9 202.2 Z" fill="#ff1a1a" fill-opacity="0.62" stroke="#f01010" stroke-width="0.8" stroke-linejoin="round"/>
<path d="M529.7 201.8 L534.0 193.1 L538.3 201.8 Z" fill="#ff1a1a" fill-opacity="0.62" stroke="#f01010" stroke-width="0.8" stroke-linejoin="round"/>
<path d="M531.0 201.8 L535.3 193.1 L539.6 201.8 Z" fill="#ff1a1a" fill-opacity="0.62" stroke="#f01010" stroke-width="0.8" stroke-linejoin="round"/>
<path d="M532.3 201.6 L536.6 192.9 L540.9 201.6 Z" fill="#ff1a1a" fill-opacity="0.62" stroke="#f01010" stroke-width="0.8" stroke-linejoin="round"/>
<path d="M533.6 200.9 L537.9 192.2 L542.2 200.9 Z" fill="#ff1a1a" fill-opacity="0.62" stroke="#f01010" stroke-width="0.8" stroke-linejoin="round"/>
<path d="M534.9 199.6 L539.2 190.9 L543.5 199.6 Z" fill="#ff1a1a" fill-opacity="0.62" stroke="#f01010" stroke-width="0.8" stroke-linejoin="round"/>
<path d="M536.1 200.2 L540.4 191.5 L544.7 200.2 Z" fill="#ff1a1a" fill-opacity="0.62" stroke="#f01010" stroke-width="0.8" stroke-linejoin="round"/>
<path d="M537.3 199.2 L541.6 190.5 L545.9 199.2 Z" fill="#ff1a1a" fill-opacity="0.62" stroke="#f01010" stroke-width="0.8" stroke-linejoin="round"/>
<path d="M538.5 198.9 L542.8 190.2 L547.1 198.9 Z" fill="#ff1a1a" fill-opacity="0.62" stroke="#f01010" stroke-width="0.8" stroke-linejoin="round"/>
<path d="M539.7 199.2 L544.0 190.5 L548.3 199.2 Z" fill="#ff1a1a" fill-opacity="0.62" stroke="#f01010" stroke-width="0.8" stroke-linejoin="round"/>
<path d="M540.8 198.1 L545.1 189.4 L549.4 198.1 Z" fill="#ff1a1a" fill-opacity="0.62" stroke="#f01010" stroke-width="0.8" stroke-linejoin="round"/>
<path d="M541.9 198.8 L546.2 190.1 L550.5 198.8 Z" fill="#ff1a1a" fill-opacity="0.62" stroke="#f01010" stroke-width="0.8" stroke-linejoin="round"/>
<path d="M543.0 197.1 L547.3 188.4 L551.6 197.1 Z" fill="#ff1a1a" fill-opacity="0.62" stroke="#f01010" stroke-width="0.8" stroke-linejoin="round"/>
<path d="M544.1 197.5 L548.4 188.8 L552.7 197.5 Z" fill="#ff1a1a" fill-opacity="0.62" stroke="#f01010" stroke-width="0.8" stroke-linejoin="round"/>
<path d="M545.1 196.8 L549.4 188.1 L553.7 196.8 Z" fill="#ff1a1a" fill-opacity="0.62" stroke="#f01010" stroke-width="0.8" stroke-linejoin="round"/>
<path d="M546.2 197.7 L550.5 189.0 L554.8 197.7 Z" fill="#ff1a1a" fill-opacity="0.62" stroke="#f01010" stroke-width="0.8" stroke-linejoin="round"/>
<path d="M547.2 196.7 L551.5 188.0 L555.8 196.7 Z" fill="#ff1a1a" fill-opacity="0.62" stroke="#f01010" stroke-width="0.8" stroke-linejoin="round"/>
<path d="M548.2 197.2 L552.5 188.5 L556.8 197.2 Z" fill="#ff1a1a" fill-opacity="0.62" stroke="#f01010" stroke-width="0.8" stroke-linejoin="round"/>
<path d="M549.2 196.7 L553.5 188.0 L557.8 196.7 Z" fill="#ff1a1a" fill-opacity="0.62" stroke="#f01010" stroke-width="0.8" stroke-linejoin="round"/>
<path d="M550.1 194.8 L554.4 186.1 L558.7 194.8 Z" fill="#ff1a1a" fill-opacity="0.62" stroke="#f01010" stroke-width="0.8" stroke-linejoin="round"/>
<path d="M551.1 194.4 L555.4 185.7 L559.7 194.4 Z" fill="#ff1a1a" fill-opacity="0.62" stroke="#f01010" stroke-width="0.8" stroke-linejoin="round"/>
<path d="M552.0 194.9 L556.3 186.2 L560.6 194.9 Z" fill="#ff1a1a" fill-opacity="0.62" stroke="#f01010" stroke-width="0.8" stroke-linejoin="round"/>
<path d="M552.9 194.2 L557.2 185.5 L561.5 194.2 Z" fill="#ff1a1a" fill-opacity="0.62" stroke="#f01010" stroke-width="0.8" stroke-linejoin="round"/>
<path d="M553.9 193.6 L558.2 184.9 L562.5 193.6 Z" fill="#ff1a1a" fill-opacity="0.62" stroke="#f01010" stroke-width="0.8" stroke-linejoin="round"/>
<path d="M554.7 193.7 L559.0 185.0 L563.3 193.7 Z" fill="#ff1a1a" fill-opacity="0.62" stroke="#f01010" stroke-width="0.8" stroke-linejoin="round"/>
<path d="M555.6 194.2 L559.9 185.5 L564.2 194.2 Z" fill="#ff1a1a" fill-opacity="0.62" stroke="#f01010" stroke-width="0.8" stroke-linejoin="round"/>
<path d="M556.5 195.9 L560.8 187.2 L565.1 195.9 Z" fill="#ff1a1a" fill-opacity="0.62" stroke="#f01010" stroke-width="0.8" stroke-linejoin="round"/>
<path d="M557.3 193.8 L561.6 185.1 L565.9 193.8 Z" fill="#ff1a1a" fill-opacity="0.62" stroke="#f01010" stroke-width="0.8" stroke-linejoin="round"/>
<path d="M558.2 195.5 L562.5 186.8 L566.8 195.5 Z" fill="#ff1a1a" fill-opacity="0.62" stroke="#f01010" stroke-width="0.8" stroke-linejoin="round"/>
<path d="M559.0 194.0 L563.3 185.3 L567.6 194.0 Z" fill="#ff1a1a" fill-opacity="0.62" stroke="#f01010" stroke-width="0.8" stroke-linejoin="round"/>
<path d="M559.8 193.3 L564.1 184.6 L568.4 193.3 Z" fill="#ff1a1a" fill-opacity="0.62" stroke="#f01010" stroke-width="0.8" stroke-linejoin="round"/>
<path d="M560.6 193.1 L564.9 184.4 L569.2 193.1 Z" fill="#ff1a1a" fill-opacity="0.62" stroke="#f01010" stroke-width="0.8" stroke-linejoin="round"/>
<path d="M561.4 194.5 L565.7 185.8 L570.0 194.5 Z" fill="#ff1a1a" fill-opacity="0.62" stroke="#f01010" stroke-width="0.8" stroke-linejoin="round"/>
<path d="M562.2 192.8 L566.5 184.1 L570.8 192.8 Z" fill="#ff1a1a" fill-opacity="0.62" stroke="#f01010" stroke-width="0.8" stroke-linejoin="round"/>
<path d="M563.0 193.9 L567.3 185.2 L571.6 193.9 Z" fill="#ff1a1a" fill-opacity="0.62" stroke="#f01010" stroke-width="0.8" stroke-linejoin="round"/>
<path d="M563.8 194.7 L568.1 186.0 L572.4 194.7 Z" fill="#ff1a1a" fill-opacity="0.62" stroke="#f01010" stroke-width="0.8" stroke-linejoin="round"/>
<path d="M564.5 191.9 L568.8 183.2 L573.1 191.9 Z" fill="#ff1a1a" fill-opacity="0.62" stroke="#f01010" stroke-width="0.8" stroke-linejoin="round"/>
<path d="M565.3 193.4 L569.6 184.7 L573.9 193.4 Z" fill="#ff1a1a" fill-opacity="0.62" stroke="#f01010" stroke-width="0.8" stroke-linejoin="round"/>
<path d="M566.0 193.8 L570.3 185.1 L574.6 193.8 Z" fill="#ff1a1a" fill-opacity="0.62" stroke="#f01010" stroke-width="0.8" stroke-linejoin="round"/>
<path d="M566.7 192.0 L571.0 183.3 L575.3 192.0 Z" fill="#ff1a1a" fill-opacity="0.62" stroke="#f01010" stroke-width="0.8" stroke-linejoin="round"/>
<path d="M567.4 194.2 L571.7 185.5 L576.0 194.2 Z" fill="#ff1a1a" fill-opacity="0.62" stroke="#f01010" stroke-width="0.8" stroke-linejoin="round"/>
<path d="M568.2 194.0 L572.5 185.3 L576.8 194.0 Z" fill="#ff1a1a" fill-opacity="0.62" stroke="#f01010" stroke-width="0.8" stroke-linejoin="round"/>
<path d="M568.9 192.9 L573.2 184.2 L577.5 192.9 Z" fill="#ff1a1a" fill-opacity="0.62" stroke="#f01010" stroke-width="0.8" stroke-linejoin="round"/>
<path d="M569.5 194.1 L573.8 185.4 L578.1 194.1 Z" fill="#ff1a1a" fill-opacity="0.62" stroke="#f01010" stroke-width="0.8" stroke-linejoin="round"/>
<path d="M570.2 193.6 L574.5 184.9 L578.8 193.6 Z" fill="#ff1a1a" fill-opacity="0.62" stroke="#f01010" stroke-width="0.8" stroke-linejoin="round"/>
<path d="M570.9 190.9 L575.2 182.2 L579.5 190.9 Z" fill="#ff1a1a" fill-opacity="0.62" stroke="#f01010" stroke-width="0.8" stroke-linejoin="round"/>
<path d="M571.6 193.6 L575.9 184.9 L580.2 193.6 Z" fill="#ff1a1a" fill-opacity="0.62" stroke="#f01010" stroke-width="0.8" stroke-linejoin="round"/>
<path d="M572.2 191.5 L576.5 182.8 L580.8 191.5 Z" fill="#ff1a1a" fill-opacity="0.62" stroke="#f01010" stroke-width="0.8" stroke-linejoin="round"/>
<path d="M572.9 189.7 L577.2 181.0 L581.5 189.7 Z" fill="#ff1a1a" fill-opacity="0.62" stroke="#f01010" stroke-width="0.8" stroke-linejoin="round"/>
<path d="M573.5 190.3 L577.8 181.6 L582.1 190.3 Z" fill="#ff1a1a" fill-opacity="0.62" stroke="#f01010" stroke-width="0.8" stroke-linejoin="round"/>
<path d="M574.2 191.7 L578.5 183.0 L582.8 191.7 Z" fill="#ff1a1a" fill-opacity="0.62" stroke="#f01010" stroke-width="0.8" stroke-linejoin="round"/>
<path d="M574.8 190.4 L579.1 181.7 L583.4 190.4 Z" fill="#ff1a1a" fill-opacity="0.62" stroke="#f01010" stroke-width="0.8" stroke-linejoin="round"/>
<path d="M575.4 192.6 L579.7 183.9 L584.0 192.6 Z" fill="#ff1a1a" fill-opacity="0.62" stroke="#f01010" stroke-width="0.8" stroke-linejoin="round"/>
<path d="M576.1 191.4 L580.4 182.7 L584.7 191.4 Z" fill="#ff1a1a" fill-opacity="0.62" stroke="#f01010" stroke-width="0.8" stroke-linejoin="round"/>
<path d="M576.7 193.3 L581.0 184.6 L585.3 193.3 Z" fill="#ff1a1a" fill-opacity="0.62" stroke="#f01010" stroke-width="0.8" stroke-linejoin="round"/>
<path d="M577.3 191.5 L581.6 182.8 L585.9 191.5 Z" fill="#ff1a1a" fill-opacity="0.62" stroke="#f01010" stroke-width="0.8" stroke-linejoin="round"/>
<path d="M577.9 190.9 L582.2 182.2 L586.5 190.9 Z" fill="#ff1a1a" fill-opacity="0.62" stroke="#f01010" stroke-width="0.8" stroke-linejoin="round"/>
<path d="M578.5 192.4 L582.8 183.7 L587.1 192.4 Z" fill="#ff1a1a" fill-opacity="0.62" stroke="#f01010" stroke-width="0.8" stroke-linejoin="round"/>
<path d="M579.1 189.3 L583.4 180.6 L587.7 189.3 Z" fill="#ff1a1a" fill-opacity="0.62" stroke="#f01010" stroke-width="0.8" stroke-linejoin="round"/>
<path d="M579.6 190.5 L583.9 181.8 L588.2 190.5 Z" fill="#ff1a1a" fill-opacity="0.62" stroke="#f01010" stroke-width="0.8" stroke-linejoin="round"/>
<path d="M580.2 190.6 L584.5 181.9 L588.8 190.6 Z" fill="#ff1a1a" fill-opacity="0.62" stroke="#f01010" stroke-width="0.8" stroke-linejoin="round"/>
<path d="M580.8 191.9 L585.1 183.2 L589.4 191.9 Z" fill="#ff1a1a" fill-opacity="0.62" stroke="#f01010" stroke-width="0.8" stroke-linejoin="round"/>
<path d="M581.3 189.9 L585.6 181.2 L589.9 189.9 Z" fill="#ff1a1a" fill-opacity="0.62" stroke="#f01010" stroke-width="0.8" stroke-linejoin="round"/>
<path d="M581.9 192.1 L586.2 183.4 L590.5 192.1 Z" fill="#ff1a1a" fill-opacity="0.62" stroke="#f01010" stroke-width="0.8" stroke-linejoin="round"/>
<path d="M582.5 192.1 L586.8 183.4 L591.1 192.1 Z" fill="#ff1a1a" fill-opacity="0.62" stroke="#f01010" stroke-width="0.8" stroke-linejoin="round"/>
<path d="M583.0 192.2 L587.3 183.5 L591.6 192.2 Z" fill="#ff1a1a" fill-opacity="0.62" stroke="#f01010" stroke-width="0.8" stroke-linejoin="round"/>
<path d="M583.6 191.6 L587.9 182.9 L592.2 191.6 Z" fill="#ff1a1a" fill-opacity="0.62" stroke="#f01010" stroke-width="0.8" stroke-linejoin="round"/>
<path d="M584.1 188.3 L588.4 179.6 L592.7 188.3 Z" fill="#ff1a1a" fill-opacity="0.62" stroke="#f01010" stroke-width="0.8" stroke-linejoin="round"/>
<path d="M584.6 192.3 L588.9 183.6 L593.2 192.3 Z" fill="#ff1a1a" fill-opacity="0.62" stroke="#f01010" stroke-width="0.8" stroke-linejoin="round"/>
<path d="M585.2 190.7 L589.5 182.0 L593.8 190.7 Z" fill="#ff1a1a" fill-opacity="0.62" stroke="#f01010" stroke-width="0.8" stroke-linejoin="round"/>
<path d="M314.0 361.8 L317.0 365.6 L314.0 369.4 L311.0 365.6 Z" fill="#1876cc" fill-opacity="0.85" stroke="#1c64a8" stroke-width="0.7"/>
<path d="M354.5 361.8 L357.5 365.6 L354.5 369.4 L351.5 365.6 Z" fill="#1876cc" fill-opacity="0.85" stroke="#1c64a8" stroke-width="0.7"/>
<path d="M378.2 361.8 L381.2 365.6 L378.2 369.4 L375.2 365.6 Z" fill="#1876cc" fill-opacity="0.85" stroke="#1c64a8" stroke-width="0.7"/>
<path d="M395.1 361.8 L398.1 365.6 L395.1 369.4 L392.1 365.6 Z" fill="#1876cc" fill-opacity="0.85" stroke="#1c64a8" stroke-width="0.7"/>
<path d="M408.1 361.8 L411.1 365.6 L408.1 369.4 L405.1 365.6 Z" fill="#1876cc" fill-opacity="0.85" stroke="#1c64a8" stroke-width="0.7"/>
<path d="M418.8 361.8 L421.8 365.6 L418.8 369.4 L415.8 365.6 Z" fill="#1876cc" fill-opacity="0.85" stroke="#1c64a8" stroke-width="0.7"/>
<path d="M427.8 361.8 L430.8 365.6 L427.8 369.4 L424.8 365.6 Z" fill="#1876cc" fill-opacity="0.85" stroke="#1c64a8" stroke-width="0.7"/>
<path d="M435.6 361.8 L438.6 365.6 L435.6 369.4 L432.6 365.6 Z" fill="#1876cc" fill-opacity="0.85" stroke="#1c64a8" stroke-width="0.7"/>
<path d="M442.5 361.8 L445.5 365.6 L442.5 369.4 L439.5 365.6 Z" fill="#1876cc" fill-opacity="0.85" stroke="#1c64a8" stroke-width="0.7"/>
<path d="M448.7 361.8 L451.7 365.6 L448.7 369.4 L445.7 365.6 Z" fill="#1876cc" fill-opacity="0.85" stroke="#1c64a8" stroke-width="0.7"/>
<path d="M454.2 361.8 L457.2 365.6 L454.2 369.4 L451.2 365.6 Z" fill="#1876cc" fill-opacity="0.85" stroke="#1c64a8" stroke-width="0.7"/>
<path d="M459.3 361.8 L462.3 365.6 L459.3 369.4 L456.3 365.6 Z" fill="#1876cc" fill-opacity="0.85" stroke="#1c64a8" stroke-width="0.7"/>
<path d="M464.0 361.8 L467.0 365.6 L464.0 369.4 L461.0 365.6 Z" fill="#1876cc" fill-opacity="0.85" stroke="#1c64a8" stroke-width="0.7"/>
<path d="M468.3 361.8 L471.3 365.6 L468.3 369.4 L465.3 365.6 Z" fill="#1876cc" fill-opacity="0.85" stroke="#1c64a8" stroke-width="0.7"/>
<path d="M472.4 361.8 L475.4 365.6 L472.4 369.4 L469.4 365.6 Z" fill="#1876cc" fill-opacity="0.85" stroke="#1c64a8" stroke-width="0.7"/>
<path d="M476.1 361.8 L479.1 365.6 L476.1 369.4 L473.1 365.6 Z" fill="#1876cc" fill-opacity="0.85" stroke="#1c64a8" stroke-width="0.7"/>
<path d="M479.7 361.8 L482.7 365.6 L479.7 369.4 L476.7 365.6 Z" fill="#1876cc" fill-opacity="0.85" stroke="#1c64a8" stroke-width="0.7"/>
<path d="M483.0 361.8 L486.0 365.6 L483.0 369.4 L480.0 365.6 Z" fill="#1876cc" fill-opacity="0.85" stroke="#1c64a8" stroke-width="0.7"/>
<path d="M486.2 361.8 L489.2 365.6 L486.2 369.4 L483.2 365.6 Z" fill="#1876cc" fill-opacity="0.85" stroke="#1c64a8" stroke-width="0.7"/>
<path d="M489.2 361.8 L492.2 365.6 L489.2 369.4 L486.2 365.6 Z" fill="#1876cc" fill-opacity="0.85" stroke="#1c64a8" stroke-width="0.7"/>
<path d="M492.1 361.8 L495.1 365.6 L492.1 369.4 L489.1 365.6 Z" fill="#1876cc" fill-opacity="0.85" stroke="#1c64a8" stroke-width="0.7"/>
<path d="M494.8 361.8 L497.8 365.6 L494.8 369.4 L491.8 365.6 Z" fill="#1876cc" fill-opacity="0.85" stroke="#1c64a8" stroke-width="0.7"/>
<path d="M497.4 361.8 L500.4 365.6 L497.4 369.4 L494.4 365.6 Z" fill="#1876cc" fill-opacity="0.85" stroke="#1c64a8" stroke-width="0.7"/>
<path d="M499.9 361.8 L502.9 365.6 L499.9 369.4 L496.9 365.6 Z" fill="#1876cc" fill-opacity="0.85" stroke="#1c64a8" stroke-width="0.7"/>
<path d="M502.3 361.8 L505.3 365.6 L502.3 369.4 L499.3 365.6 Z" fill="#1876cc" fill-opacity="0.85" stroke="#1c64a8" stroke-width="0.7"/>
<path d="M504.6 361.8 L507.6 365.6 L504.6 369.4 L501.6 365.6 Z" fill="#1876cc" fill-opacity="0.85" stroke="#1c64a8" stroke-width="0.7"/>
<path d="M506.8 361.8 L509.8 365.6 L506.8 369.4 L503.8 365.6 Z" fill="#1876cc" fill-opacity="0.85" stroke="#1c64a8" stroke-width="0.7"/>
<path d="M508.9 361.8 L511.9 365.6 L508.9 369.4 L505.9 365.6 Z" fill="#1876cc" fill-opacity="0.85" stroke="#1c64a8" stroke-width="0.7"/>
<path d="M510.9 361.8 L513.9 365.6 L510.9 369.4 L507.9 365.6 Z" fill="#1876cc" fill-opacity="0.85" stroke="#1c64a8" stroke-width="0.7"/>
<path d="M512.9 361.8 L515.9 365.6 L512.9 369.4 L509.9 365.6 Z" fill="#1876cc" fill-opacity="0.85" stroke="#1c64a8" stroke-width="0.7"/>
<path d="M514.8 361.8 L517.8 365.6 L514.8 369.4 L511.8 365.6 Z" fill="#1876cc" fill-opacity="0.85" stroke="#1c64a8" stroke-width="0.7"/>
<path d="M516.7 361.8 L519.7 365.6 L516.7 369.4 L513.7 365.6 Z" fill="#1876cc" fill-opacity="0.85" stroke="#1c64a8" stroke-width="0.7"/>
<path d="M518.5 361.8 L521.5 365.6 L518.5 369.4 L515.5 365.6 Z" fill="#1876cc" fill-opacity="0.85" stroke="#1c64a8" stroke-width="0.7"/>
<path d="M520.2 361.8 L523.2 365.6 L520.2 369.4 L517.2 365.6 Z" fill="#1876cc" fill-opacity="0.85" stroke="#1c64a8" stroke-width="0.7"/>
<path d="M521.9 361.8 L524.9 365.6 L521.9 369.4 L518.9 365.6 Z" fill="#1876cc" fill-opacity="0.85" stroke="#1c64a8" stroke-width="0.7"/>
<path d="M523.6 361.8 L526.6 365.6 L523.6 369.4 L520.6 365.6 Z" fill="#1876cc" fill-opacity="0.85" stroke="#1c64a8" stroke-width="0.7"/>
<path d="M525.2 361.8 L528.2 365.6 L525.2 369.4 L522.2 365.6 Z" fill="#1876cc" fill-opacity="0.85" stroke="#1c64a8" stroke-width="0.7"/>
<path d="M526.8 361.8 L529.8 365.6 L526.8 369.4 L523.8 365.6 Z" fill="#1876cc" fill-opacity="0.85" stroke="#1c64a8" stroke-width="0.7"/>
<path d="M528.3 361.8 L531.3 365.6 L528.3 369.4 L525.3 365.6 Z" fill="#1876cc" fill-opacity="0.85" stroke="#1c64a8" stroke-width="0.7"/>
<path d="M529.8 361.8 L532.8 365.6 L529.8 369.4 L526.8 365.6 Z" fill="#1876cc" fill-opacity="0.85" stroke="#1c64a8" stroke-width="0.7"/>
<path d="M531.2 361.8 L534.2 365.6 L531.2 369.4 L528.2 365.6 Z" fill="#1876cc" fill-opacity="0.85" stroke="#1c64a8" stroke-width="0.7"/>
<path d="M532.6 361.8 L535.6 365.6 L532.6 369.4 L529.6 365.6 Z" fill="#1876cc" fill-opacity="0.85" stroke="#1c64a8" stroke-width="0.7"/>
<path d="M534.0 361.8 L537.0 365.6 L534.0 369.4 L531.0 365.6 Z" fill="#1876cc" fill-opacity="0.85" stroke="#1c64a8" stroke-width="0.7"/>
<path d="M535.3 361.8 L538.3 365.6 L535.3 369.4 L532.3 365.6 Z" fill="#1876cc" fill-opacity="0.85" stroke="#1c64a8" stroke-width="0.7"/>
<path d="M536.6 361.8 L539.6 365.6 L536.6 369.4 L533.6 365.6 Z" fill="#1876cc" fill-opacity="0.85" stroke="#1c64a8" stroke-width="0.7"/>
<path d="M537.9 361.8 L540.9 365.6 L537.9 369.4 L534.9 365.6 Z" fill="#1876cc" fill-opacity="0.85" stroke="#1c64a8" stroke-width="0.7"/>
<path d="M539.2 361.8 L542.2 365.6 L539.2 369.4 L536.2 365.6 Z" fill="#1876cc" fill-opacity="0.85" stroke="#1c64a8" stroke-width="0.7"/>
<path d="M540.4 361.8 L543.4 365.6 L540.4 369.4 L537.4 365.6 Z" fill="#1876cc" fill-opacity="0.85" stroke="#1c64a8" stroke-width="0.7"/>
<path d="M541.6 361.8 L544.6 365.6 L541.6 369.4 L538.6 365.6 Z" fill="#1876cc" fill-opacity="0.85" stroke="#1c64a8" stroke-width="0.7"/>
<path d="M542.8 361.8 L545.8 365.6 L542.8 369.4 L539.8 365.6 Z" fill="#1876cc" fill-opacity="0.85" stroke="#1c64a8" stroke-width="0.7"/>
<path d="M544.0 361.8 L547.0 365.6 L544.0 369.4 L541.0 365.6 Z" fill="#1876cc" fill-opacity="0.85" stroke="#1c64a8" stroke-width="0.7"/>
<path d="M545.1 361.8 L548.1 365.6 L545.1 369.4 L542.1 365.6 Z" fill="#1876cc" fill-opacity="0.85" stroke="#1c64a8" stroke-width="0.7"/>
<path d="M546.2 361.8 L549.2 365.6 L546.2 369.4 L543.2 365.6 Z" fill="#1876cc" fill-opacity="0.85" stroke="#1c64a8" stroke-width="0.7"/>
<path d="M547.3 361.8 L550.3 365.6 L547.3 369.4 L544.3 365.6 Z" fill="#1876cc" fill-opacity="0.85" stroke="#1c64a8" stroke-width="0.7"/>
<path d="M548.4 361.8 L551.4 365.6 L548.4 369.4 L545.4 365.6 Z" fill="#1876cc" fill-opacity="0.85" stroke="#1c64a8" stroke-width="0.7"/>
<path d="M549.4 361.8 L552.4 365.6 L549.4 369.4 L546.4 365.6 Z" fill="#1876cc" fill-opacity="0.85" stroke="#1c64a8" stroke-width="0.7"/>
<path d="M550.5 361.8 L553.5 365.6 L550.5 369.4 L547.5 365.6 Z" fill="#1876cc" fill-opacity="0.85" stroke="#1c64a8" stroke-width="0.7"/>
<path d="M551.5 361.8 L554.5 365.6 L551.5 369.4 L548.5 365.6 Z" fill="#1876cc" fill-opacity="0.85" stroke="#1c64a8" stroke-width="0.7"/>
<path d="M552.5 361.8 L555.5 365.6 L552.5 369.4 L549.5 365.6 Z" fill="#1876cc" fill-opacity="0.85" stroke="#1c64a8" stroke-width="0.7"/>
<path d="M553.5 361.8 L556.5 365.6 L553.5 369.4 L550.5 365.6 Z" fill="#1876cc" fill-opacity="0.85" stroke="#1c64a8" stroke-width="0.7"/>
<path d="M554.4 361.8 L557.4 365.6 L554.4 369.4 L551.4 365.6 Z" fill="#1876cc" fill-opacity="0.85" stroke="#1c64a8" stroke-width="0.7"/>
<path d="M555.4 361.8 L558.4 365.6 L555.4 369.4 L552.4 365.6 Z" fill="#1876cc" fill-opacity="0.85" stroke="#1c64a8" stroke-width="0.7"/>
<path d="M556.3 361.8 L559.3 365.6 L556.3 369.4 L553.3 365.6 Z" fill="#1876cc" fill-opacity="0.85" stroke="#1c64a8" stroke-width="0.7"/>
<path d="M557.2 361.8 L560.2 365.6 L557.2 369.4 L554.2 365.6 Z" fill="#1876cc" fill-opacity="0.85" stroke="#1c64a8" stroke-width="0.7"/>
<path d="M558.2 361.8 L561.2 365.6 L558.2 369.4 L555.2 365.6 Z" fill="#1876cc" fill-opacity="0.85" stroke="#1c64a8" stroke-width="0.7"/>
<path d="M559.0 361.8 L562.0 365.6 L559.0 369.4 L556.0 365.6 Z" fill="#1876cc" fill-opacity="0.85" stroke="#1c64a8" stroke-width="0.7"/>
<path d="M559.9 361.8 L562.9 365.6 L559.9 369.4 L556.9 365.6 Z" fill="#1876cc" fill-opacity="0.85" stroke="#1c64a8" stroke-width="0.7"/>
<path d="M560.8 361.8 L563.8 365.6 L560.8 369.4 L557.8 365.6 Z" fill="#1876cc" fill-opacity="0.85" stroke="#1c64a8" stroke-width="0.7"/>
<path d="M561.6 361.8 L564.6 365.6 L561.6 369.4 L558.6 365.6 Z" fill="#1876cc" fill-opacity="0.85" stroke="#1c64a8" stroke-width="0.7"/>
<path d="M562.5 361.8 L565.5 365.6 L562.5 369.4 L559.5 365.6 Z" fill="#1876cc" fill-opacity="0.85" stroke="#1c64a8" stroke-width="0.7"/>
<path d="M563.3 361.8 L566.3 365.6 L563.3 369.4 L560.3 365.6 Z" fill="#1876cc" fill-opacity="0.85" stroke="#1c64a8" stroke-width="0.7"/>
<path d="M564.1 361.8 L567.1 365.6 L564.1 369.4 L561.1 365.6 Z" fill="#1876cc" fill-opacity="0.85" stroke="#1c64a8" stroke-width="0.7"/>
<path d="M564.9 361.8 L567.9 365.6 L564.9 369.4 L561.9 365.6 Z" fill="#1876cc" fill-opacity="0.85" stroke="#1c64a8" stroke-width="0.7"/>
<path d="M565.7 361.8 L568.7 365.6 L565.7 369.4 L562.7 365.6 Z" fill="#1876cc" fill-opacity="0.85" stroke="#1c64a8" stroke-width="0.7"/>
<path d="M566.5 361.8 L569.5 365.6 L566.5 369.4 L563.5 365.6 Z" fill="#1876cc" fill-opacity="0.85" stroke="#1c64a8" stroke-width="0.7"/>
<path d="M567.3 361.8 L570.3 365.6 L567.3 369.4 L564.3 365.6 Z" fill="#1876cc" fill-opacity="0.85" stroke="#1c64a8" stroke-width="0.7"/>
<path d="M568.1 361.8 L571.1 365.6 L568.1 369.4 L565.1 365.6 Z" fill="#1876cc" fill-opacity="0.85" stroke="#1c64a8" stroke-width="0.7"/>
<path d="M568.8 361.8 L571.8 365.6 L568.8 369.4 L565.8 365.6 Z" fill="#1876cc" fill-opacity="0.85" stroke="#1c64a8" stroke-width="0.7"/>
<path d="M569.6 361.8 L572.6 365.6 L569.6 369.4 L566.6 365.6 Z" fill="#1876cc" fill-opacity="0.85" stroke="#1c64a8" stroke-width="0.7"/>
<path d="M570.3 361.8 L573.3 365.6 L570.3 369.4 L567.3 365.6 Z" fill="#1876cc" fill-opacity="0.85" stroke="#1c64a8" stroke-width="0.7"/>
<path d="M571.0 361.8 L574.0 365.6 L571.0 369.4 L568.0 365.6 Z" fill="#1876cc" fill-opacity="0.85" stroke="#1c64a8" stroke-width="0.7"/>
<path d="M571.7 361.8 L574.7 365.6 L571.7 369.4 L568.7 365.6 Z" fill="#1876cc" fill-opacity="0.85" stroke="#1c64a8" stroke-width="0.7"/>
<path d="M572.5 361.8 L575.5 365.6 L572.5 369.4 L569.5 365.6 Z" fill="#1876cc" fill-opacity="0.85" stroke="#1c64a8" stroke-width="0.7"/>
<path d="M573.2 361.8 L576.2 365.6 L573.2 369.4 L570.2 365.6 Z" fill="#1876cc" fill-opacity="0.85" stroke="#1c64a8" stroke-width="0.7"/>
<path d="M573.8 361.8 L576.8 365.6 L573.8 369.4 L570.8 365.6 Z" fill="#1876cc" fill-opacity="0.85" stroke="#1c64a8" stroke-width="0.7"/>
<path d="M574.5 361.8 L577.5 365.6 L574.5 369.4 L571.5 365.6 Z" fill="#1876cc" fill-opacity="0.85" stroke="#1c64a8" stroke-width="0.7"/>
<path d="M575.2 361.8 L578.2 365.6 L575.2 369.4 L572.2 365.6 Z" fill="#1876cc" fill-opacity="0.85" stroke="#1c64a8" stroke-width="0.7"/>
<path d="M575.9 361.8 L578.9 365.6 L575.9 369.4 L572.9 365.6 Z" fill="#1876cc" fill-opacity="0.85" stroke="#1c64a8" stroke-width="0.7"/>
<path d="M576.5 361.8 L579.5 365.6 L576.5 369.4 L573.5 365.6 Z" fill="#1876cc" fill-opacity="0.85" stroke="#1c64a8" stroke-width="0.7"/>
<path d="M577.2 361.8 L580.2 365.6 L577.2 369.4 L574.2 365.6 Z" fill="#1876cc" fill-opacity="0.85" stroke="#1c64a8" stroke-width="0.7"/>
<path d="M577.8 361.8 L580.8 365.6 L577.8 369.4 L574.8 365.6 Z" fill="#1876cc" fill-opacity="0.85" stroke="#1c64a8" stroke-width="0.7"/>
<path d="M578.5 361.8 L581.5 365.6 L578.5 369.4 L575.5 365.6 Z" fill="#1876cc" fill-opacity="0.85" stroke="#1c64a8" stroke-width="0.7"/>
<path d="M579.1 361.8 L582.1 365.6 L579.1 369.4 L576.1 365.6 Z" fill="#1876cc" fill-opacity="0.85" stroke="#1c64a8" stroke-width="0.7"/>
<path d="M579.7 361.8 L582.7 365.6 L579.7 369.4 L576.7 365.6 Z" fill="#1876cc" fill-opacity="0.85" stroke="#1c64a8" stroke-width="0.7"/>
<path d="M580.4 361.8 L583.4 365.6 L580.4 369.4 L577.4 365.6 Z" fill="#1876cc" fill-opacity="0.85" stroke="#1c64a8" stroke-width="0.7"/>
<path d="M581.0 361.8 L584.0 365.6 L581.0 369.4 L578.0 365.6 Z" fill="#1876cc" fill-opacity="0.85" stroke="#1c64a8" stroke-width="0.7"/>
<path d="M581.6 361.8 L584.6 365.6 L581.6 369.4 L578.6 365.6 Z" fill="#1876cc" fill-opacity="0.85" stroke="#1c64a8" stroke-width="0.7"/>
<path d="M582.2 361.8 L585.2 365.6 L582.2 369.4 L579.2 365.6 Z" fill="#1876cc" fill-opacity="0.85" stroke="#1c64a8" stroke-width="0.7"/>
<path d="M582.8 361.8 L585.8 365.6 L582.8 369.4 L579.8 365.6 Z" fill="#1876cc" fill-opacity="0.85" stroke="#1c64a8" stroke-width="0.7"/>
<path d="M583.4 361.8 L586.4 365.6 L583.4 369.4 L580.4 365.6 Z" fill="#1876cc" fill-opacity="0.85" stroke="#1c64a8" stroke-width="0.7"/>
<path d="M583.9 361.8 L586.9 365.6 L583.9 369.4 L580.9 365.6 Z" fill="#1876cc" fill-opacity="0.85" stroke="#1c64a8" stroke-width="0.7"/>
<path d="M584.5 361.8 L587.5 365.6 L584.5 369.4 L581.5 365.6 Z" fill="#1876cc" fill-opacity="0.85" stroke="#1c64a8" stroke-width="0.7"/>
<path d="M585.1 361.8 L588.1 365.6 L585.1 369.4 L582.1 365.6 Z" fill="#1876cc" fill-opacity="0.85" stroke="#1c64a8" stroke-width="0.7"/>
<path d="M585.6 361.8 L588.6 365.6 L585.6 369.4 L582.6 365.6 Z" fill="#1876cc" fill-opacity="0.85" stroke="#1c64a8" stroke-width="0.7"/>
<path d="M586.2 361.8 L589.2 365.6 L586.2 369.4 L583.2 365.6 Z" fill="#1876cc" fill-opacity="0.85" stroke="#1c64a8" stroke-width="0.7"/>
<path d="M586.8 361.8 L589.8 365.6 L586.8 369.4 L583.8 365.6 Z" fill="#1876cc" fill-opacity="0.85" stroke="#1c64a8" stroke-width="0.7"/>
<path d="M587.3 361.8 L590.3 365.6 L587.3 369.4 L584.3 365.6 Z" fill="#1876cc" fill-opacity="0.85" stroke="#1c64a8" stroke-width="0.7"/>
<path d="M587.9 361.8 L590.9 365.6 L587.9 369.4 L584.9 365.6 Z" fill="#1876cc" fill-opacity="0.85" stroke="#1c64a8" stroke-width="0.7"/>
<path d="M588.4 361.8 L591.4 365.6 L588.4 369.4 L585.4 365.6 Z" fill="#1876cc" fill-opacity="0.85" stroke="#1c64a8" stroke-width="0.7"/>
<path d="M588.9 361.8 L591.9 365.6 L588.9 369.4 L585.9 365.6 Z" fill="#1876cc" fill-opacity="0.85" stroke="#1c64a8" stroke-width="0.7"/>
<path d="M589.5 361.8 L592.5 365.6 L589.5 369.4 L586.5 365.6 Z" fill="#1876cc" fill-opacity="0.85" stroke="#1c64a8" stroke-width="0.7"/>
<path d="M327.7 276.4 H398.2 V256 Z" fill="none" stroke="#333" stroke-width="1.2" stroke-linejoin="miter"/>
<text x="404.8" y="273.2" font-size="13.5" text-anchor="middle" style="font-family:'Liberation Serif',serif">1</text>
<text x="367.3" y="289.2" font-size="13.5" text-anchor="middle" style="font-family:'Liberation Serif',serif">2</text>
<path d="M445.3 274.2 L449.5 266.0 L453.7 274.2 Z" fill="#ff1a1a" fill-opacity="0.62" stroke="#f01010" stroke-width="0.8"/>
<text x="462.8" y="274" font-size="14.3">Cottonseed oil</text>
<path d="M437.6 301 H460.6" stroke="#000" stroke-width="1.6" stroke-dasharray="4.2 2"/>
<path d="M448.8 296.8 L452.2 301 L448.8 305.2 L445.4 301 Z" fill="#1c74c4" stroke="#1d5e9c" stroke-width="0.7"/>
<text x="462.8" y="305.3" font-size="14.3">Silicone oil</text>
<path d="M436.7 332 H442.3 M450.6 332 H456.8" stroke="#5b9bd5" stroke-width="1.7"/>
<text x="462.8" y="336.6" font-size="14.3">Equation (1) - Washburn</text>
</svg></body></html>
